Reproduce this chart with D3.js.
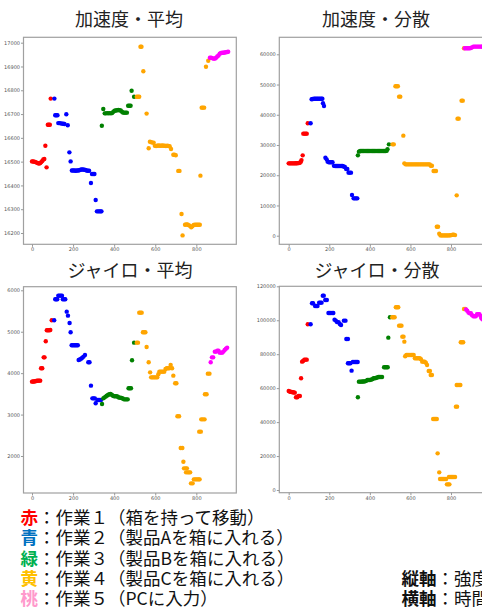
<!DOCTYPE html>
<html>
<head>
<meta charset="utf-8">
<script src="https://cdn.jsdelivr.net/npm/d3@7"></script>
<style>
  body { margin: 0; background: #fff; }
  svg text { font-family: "Noto Sans CJK JP", "Noto Sans", sans-serif; }
  .tick text { font-family: "DejaVu Sans", sans-serif; font-size: 5px; fill: #555; }
  .tick line { stroke: #999; }
</style>
</head>
<body>
<svg id="chart" width="482" height="610"></svg>
<script>
const plotTitles = ["加速度・平均", "加速度・分散", "ジャイロ・平均", "ジャイロ・分散"];
const seriesColors = ["red", "blue", "green", "orange", "magenta"];
const xTicks = [0, 200, 400, 600, 800];
const accMeanTicks = [16200, 16300, 16400, 16500, 16600, 16700, 16800, 16900, 17000];
const accVarTicks = [0, 10000, 20000, 30000, 40000, 50000, 60000];
const gyroMeanTicks = [2000, 3000, 4000, 5000, 6000];
const gyroVarTicks = [0, 20000, 40000, 60000, 80000, 100000, 120000];

// 加速度・平均  [time, value]
const accMeanRed = [[0,16501],[5,16501],[10,16500],[15,16499],[20,16497],[25,16495],[30,16493],[35,16492],[40,16494],[45,16498],[50,16503],[55,16509],[60,16511],[65,16567],[71,16476],[77,16655],[82,16655],[87,16655],[91,16765]];
const accMeanBlue = [[109,16765],[113,16695],[118,16695],[124,16695],[128,16662],[134,16662],[140,16661],[146,16660],[152,16659],[158,16658],[167,16699],[174,16653],[182,16539],[188,16501],[194,16463],[200,16463],[206,16463],[212,16462],[218,16463],[224,16463],[230,16464],[236,16466],[242,16467],[248,16467],[254,16466],[260,16465],[266,16463],[272,16462],[278,16462],[287,16410],[292,16448],[298,16448],[304,16448],[310,16339],[316,16291],[322,16291],[328,16291],[334,16291],[338,16291]];
const accMeanGreen = [[340,16651],[347,16721],[354,16703],[360,16703],[366,16704],[372,16703],[378,16704],[384,16703],[390,16704],[396,16710],[402,16714],[408,16715],[414,16716],[420,16717],[426,16716],[432,16715],[438,16710],[444,16706],[450,16706],[456,16706],[462,16706],[468,16735],[474,16735],[480,16735],[485,16798],[497,16773]];
const accMeanOrange = [[510,16773],[516,16773],[522,16773],[528,16983],[533,16983],[542,16880],[558,16702],[568,16556],[574,16584],[580,16582],[586,16580],[592,16580],[598,16567],[604,16566],[610,16567],[616,16568],[622,16567],[628,16567],[634,16568],[640,16567],[646,16567],[652,16566],[658,16567],[664,16566],[670,16565],[677,16553],[688,16529],[694,16529],[700,16527],[712,16461],[718,16461],[728,16280],[733,16190],[745,16235],[751,16236],[757,16236],[763,16233],[769,16230],[775,16224],[781,16228],[787,16234],[793,16235],[799,16235],[805,16235],[811,16235],[817,16235],[820,16441],[826,16727],[832,16727],[838,16727],[847,16899],[858,16924]];
const accMeanMagenta = [[866,16937],[872,16937],[878,16935],[884,16933],[890,16933],[896,16937],[902,16942],[908,16946],[914,16954],[920,16957],[926,16958],[932,16958],[938,16959],[944,16960],[950,16961],[955,16962]];

// 加速度・分散
const accVarRed = [[0,23935],[5,23935],[10,23935],[15,23935],[20,23935],[25,23935],[30,23935],[35,23940],[40,23950],[45,23990],[50,24050],[55,24150],[60,24500],[63,25000],[69,26580],[72,33750],[78,33750],[84,33750],[89,33750],[94,37170]];
const accVarBlue = [[108,37170],[113,45110],[119,45200],[125,45300],[131,45300],[137,45300],[143,45300],[149,45300],[155,45300],[161,45300],[166,45300],[169,43800],[174,42900],[181,25810],[187,25260],[192,24500],[198,24270],[204,24270],[210,24270],[216,24270],[223,23100],[229,23050],[235,23050],[241,23050],[247,23050],[253,23050],[259,23050],[265,23050],[271,22900],[277,22700],[283,22060],[289,22060],[295,20850],[301,20850],[307,20850],[312,13460],[320,12350],[326,12350],[332,12350],[338,12350]];
const accVarGreen = [[341,26580],[346,27800],[352,28020],[358,28020],[364,28020],[370,28020],[376,28020],[382,28020],[388,28020],[394,28020],[400,28020],[406,28020],[412,28020],[418,28020],[424,28020],[430,28020],[436,28020],[442,28020],[448,28020],[454,28020],[460,28020],[466,28020],[472,28020],[478,28020],[483,28100],[487,28570],[494,30220]];
const accVarOrange = [[512,30220],[518,30220],[526,49410],[532,49410],[538,49410],[544,45990],[550,45990],[565,33090],[570,23935],[576,23600],[582,23600],[588,23600],[594,23600],[600,23600],[606,23600],[612,23600],[618,23600],[624,23600],[630,23600],[636,23600],[642,23600],[648,23600],[654,23600],[660,23600],[666,23600],[672,23600],[678,23600],[684,23600],[690,23600],[695,23600],[700,23160],[706,23160],[714,21400],[720,21400],[726,21400],[730,2980],[736,2980],[742,660],[748,100],[754,100],[760,100],[766,100],[772,100],[778,100],[784,100],[790,100],[796,150],[802,200],[808,300],[814,330],[820,200],[828,13350],[832,38720],[838,38720],[852,44670],[858,44670],[864,61990]];
const accVarMagenta = [[868,61990],[874,61990],[880,61990],[886,61990],[892,61990],[898,62100],[904,62300],[910,62540],[916,62540],[922,62540],[928,62540],[934,62540],[940,62540],[946,62540],[952,62540],[956,62540]];

// ジャイロ・平均
const gyroMeanRed = [[0,3795],[5,3797],[10,3800],[15,3805],[20,3812],[25,3815],[30,3819],[35,3819],[40,3819],[44,4117],[50,4117],[57,4382],[61,4382],[67,4769],[72,5034],[78,5034],[84,5034],[89,5040],[96,5276]];
const gyroMeanBlue = [[108,5276],[113,5783],[118,5783],[123,5783],[128,5871],[134,5871],[140,5871],[146,5871],[150,5783],[156,5783],[162,5783],[169,5485],[175,5388],[183,5211],[188,4986],[193,4672],[199,4672],[205,4672],[211,4672],[217,4672],[223,4672],[227,4318],[233,4330],[239,4350],[245,4374],[251,4400],[258,4439],[274,4262],[280,4262],[287,3698],[294,3392],[300,3392],[306,3392],[310,3272],[318,3352],[324,3352],[330,3352],[336,3352]];
const gyroMeanGreen = [[341,3256],[347,3392],[352,3410],[358,3433],[364,3455],[370,3473],[376,3490],[382,3497],[388,3480],[394,3455],[400,3441],[406,3441],[412,3441],[418,3430],[424,3409],[430,3409],[436,3400],[442,3390],[448,3368],[454,3368],[460,3368],[466,3368],[470,3634],[476,3634],[482,3634],[487,4310],[497,4736]];
const gyroMeanOrange = [[510,4736],[516,4736],[522,5461],[528,5461],[534,5461],[540,4986],[546,4986],[552,4986],[558,4632],[568,4262],[575,4020],[580,3899],[586,3899],[592,3899],[598,3899],[604,3899],[610,3899],[615,3972],[620,4036],[626,4036],[632,4036],[638,4036],[644,4036],[650,4100],[656,4117],[662,4117],[668,4117],[675,4197],[682,4117],[688,3940],[697,3755],[703,3755],[708,2958],[716,2958],[724,2193],[732,2193],[737,1863],[740,1702],[748,1702],[754,1702],[750,1606],[758,1606],[764,1606],[770,1606],[774,1340],[782,1340],[788,1437],[794,1437],[800,1437],[806,1437],[812,1437],[816,1437],[814,2588],[822,2588],[824,2885],[832,2885],[840,2885],[842,3489],[850,3489],[856,3988],[864,3988]];
const gyroMeanMagenta = [[870,4262],[876,4382],[882,4382],[890,4519],[896,4519],[902,4543],[908,4543],[914,4495],[920,4495],[926,4495],[932,4520],[938,4559],[944,4590],[950,4616]];

// ジャイロ・分散
const gyroVarRed = [[0,58330],[5,58000],[10,57800],[15,57700],[20,57600],[25,57500],[30,57350],[36,54600],[42,54600],[48,55400],[55,55400],[61,65790],[66,75610],[71,76000],[77,76790],[83,76790],[89,76790],[94,97610]];
const gyroVarBlue = [[108,97610],[115,109980],[120,109980],[130,108410],[136,108410],[142,108410],[150,110380],[156,110380],[162,110380],[168,114500],[173,114500],[180,111950],[188,111950],[196,104290],[202,104290],[208,104290],[214,104290],[220,104290],[226,100360],[232,99800],[238,99000],[246,98790],[252,97800],[258,97220],[272,99770],[280,99770],[284,88970],[292,88970],[292,74630],[298,74630],[304,74630],[310,70310],[316,75420],[322,75420],[328,75420],[334,75420],[340,75420]];
const gyroVarGreen = [[341,54600],[346,63830],[352,63830],[358,63830],[364,63900],[370,63900],[376,64000],[382,64300],[388,64810],[394,64810],[400,64810],[406,65000],[412,65300],[418,65790],[424,65790],[430,66000],[436,66300],[442,66580],[448,66580],[454,66580],[460,66580],[470,72270],[476,72270],[482,72270],[488,72270],[491,89750],[499,101730]];
const gyroVarOrange = [[510,101730],[516,101730],[522,101730],[528,107620],[534,107620],[540,107620],[544,96830],[550,96830],[556,96830],[560,90340],[566,90340],[570,87400],[574,78750],[580,79540],[586,79540],[592,79540],[598,79540],[604,79540],[610,79540],[616,79540],[622,77580],[628,77580],[634,77580],[640,77580],[646,77580],[652,77000],[658,75610],[664,75610],[670,75610],[676,75000],[682,73650],[690,70110],[696,70110],[700,67760],[706,67760],[712,41830],[718,41830],[724,41830],[730,41830],[734,21600],[742,10410],[746,6480],[752,6480],[758,6480],[764,6480],[770,6480],[776,6480],[780,3340],[786,3340],[792,3340],[790,7660],[796,7660],[802,7660],[808,7660],[814,7660],[820,7660],[824,49100],[830,49100],[828,61870],[834,61870],[840,61870],[846,61870],[848,87010],[854,87010],[860,87010],[864,106650],[870,106650]];
const gyroVarMagenta = [[874,106400],[880,105670],[886,104500],[892,104090],[898,104090],[904,103000],[910,102320],[916,102320],[922,102320],[928,103500],[934,103500],[940,103500],[946,102500],[950,101150],[956,100500]];

const legendNames = ["赤", "青", "緑", "黄", "桃"];
const legendColors = ["#ff0000", "#0070c0", "#00b050", "#ffc000", "#ff99cc"];
const legendTexts = ["：作業１（箱を持って移動）", "：作業２（製品Aを箱に入れる）", "：作業３（製品Bを箱に入れる）", "：作業４（製品Cを箱に入れる）", "：作業５（PCに入力）"];
const axisNames = ["縦軸", "横軸"];
const axisTexts = ["：強度", "：時間"];

const svg = d3.select("#chart");

// layout of the four panels (pixel boxes)
const panels = [
  { title: plotTitles[0], series: [accMeanRed, accMeanBlue, accMeanGreen, accMeanOrange, accMeanMagenta],
    x: 23.5, y: 37.3, w: 212.8, h: 207, xDom: [-41.4, 994.6], yDom: [16152.5, 17022.7], yTicks: accMeanTicks, tx: 129, ty: 26 },
  { title: plotTitles[1], series: [accVarRed, accVarBlue, accVarGreen, accVarOrange, accVarMagenta],
    x: 279.3, y: 37.3, w: 212.8, h: 207, xDom: [-46.3, 1002.5], yDom: [-2845, 65623], yTicks: accVarTicks, tx: 376, ty: 26 },
  { title: plotTitles[2], series: [gyroMeanRed, gyroMeanBlue, gyroMeanGreen, gyroMeanOrange, gyroMeanMagenta],
    x: 23.5, y: 286.7, w: 212.8, h: 206.3, xDom: [-41.4, 994.6], yDom: [1107, 6087], yTicks: gyroMeanTicks, tx: 130, ty: 277 },
  { title: plotTitles[3], series: [gyroVarRed, gyroVarBlue, gyroVarGreen, gyroVarOrange, gyroVarMagenta],
    x: 279.3, y: 286.3, w: 212.8, h: 206.4, xDom: [-46.3, 1002.5], yDom: [-1590, 120000], yTicks: gyroVarTicks, tx: 377, ty: 277 }
];

panels.forEach(p => {
  const xS = d3.scaleLinear().domain(p.xDom).range([0, p.w]);
  const yS = d3.scaleLinear().domain(p.yDom).range([p.h, 0]);

  svg.append("text")
    .attr("x", p.tx).attr("y", p.ty)
    .attr("text-anchor", "middle")
    .style("font-size", "18px")
    .style("fill", "#222")
    .text(p.title);

  const g = svg.append("g").attr("transform", "translate(" + p.x + "," + p.y + ")");

  p.series.forEach((s, i) => {
    g.append("g").selectAll("circle")
      .data(s)
      .enter()
      .append("circle")
      .attr("cx", d => xS(d[0]))
      .attr("cy", d => yS(d[1]))
      .attr("r", 2.2)
      .style("fill", seriesColors[i]);
  });

  g.append("rect")
    .attr("width", p.w).attr("height", p.h)
    .style("fill", "none")
    .style("stroke", "#a0a0a0")
    .style("stroke-width", 1.2);

  const xa = g.append("g")
    .attr("transform", "translate(0," + p.h + ")")
    .call(d3.axisBottom(xS).tickValues(xTicks).tickSize(2.5).tickPadding(0.8));
  xa.select(".domain").remove();

  const ya = g.append("g")
    .call(d3.axisLeft(yS).tickValues(p.yTicks).tickSize(2.5).tickPadding(1).tickFormat(d3.format("d")));
  ya.select(".domain").remove();
});

// legend at the bottom
legendNames.forEach((n, i) => {
  const t = svg.append("text")
    .attr("x", 20.5).attr("y", 524 + i * 20.3)
    .style("font-size", "17.5px");
  t.append("tspan").style("fill", legendColors[i]).style("font-weight", "bold").text(n);
  t.append("tspan").style("fill", "#111").text(legendTexts[i]);
});

axisNames.forEach((n, i) => {
  const t = svg.append("text")
    .attr("x", 401.5).attr("y", 585 + i * 20.3)
    .style("font-size", "17.5px");
  t.append("tspan").style("font-weight", "bold").style("fill", "#111").text(n);
  t.append("tspan").style("fill", "#111").text(axisTexts[i]);
});
</script>
</body>
</html>
